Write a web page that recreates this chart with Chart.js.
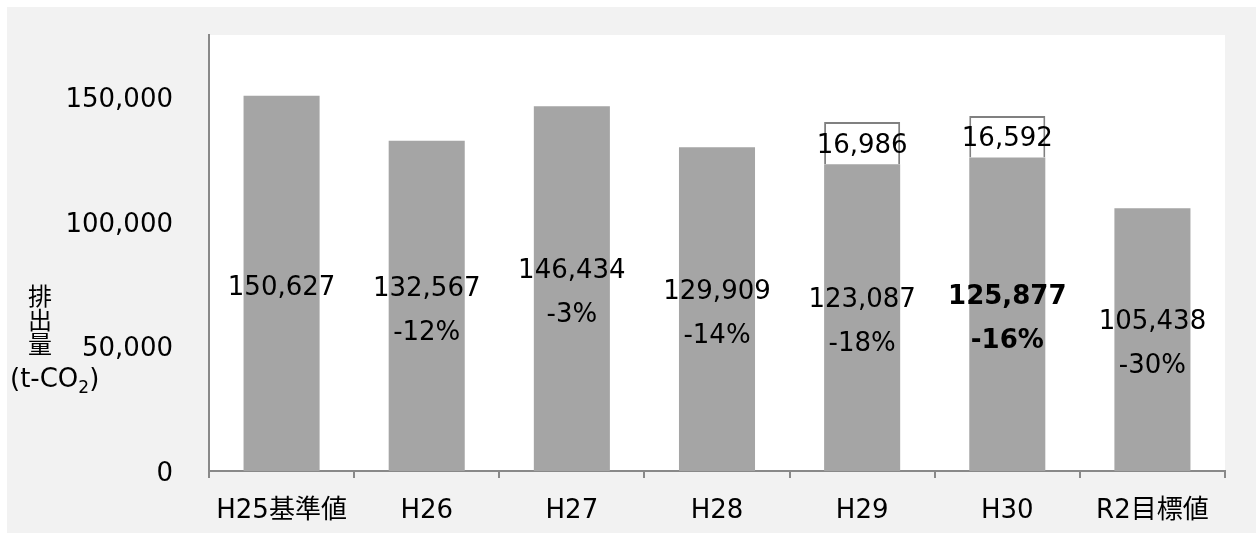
<!DOCTYPE html>
<html>
<head>
<meta charset="utf-8">
<script src="https://cdn.jsdelivr.net/npm/chart.js@4"></script>
<style>
  body { margin: 0; background: #fff; }
  #wrap { width: 1256px; height: 533px; position: relative; }
</style>
</head>
<body>
<div id="wrap"><canvas id="co2Chart"></canvas></div>
<script>
// ── DATI ─────────────────────────────────────
const categories = ['H25基準値', 'H26', 'H27', 'H28', 'H29', 'H30', 'R2目標値'];
const emissions  = [150627, 132567, 146434, 129909, 123087, 125877, 105438];
const extraPart  = [null, null, null, null, 16986, 16592, null];
const pctLabels  = ['', '-12%', '-3%', '-14%', '-18%', '-16%', '-30%'];
const boldIndex  = 5;
const yTicks     = [0, 50000, 100000, 150000];
const yMax       = 175000;

const FONT = "'DejaVu Sans', 'Noto Sans CJK JP', sans-serif";
const fmt  = v => v.toLocaleString('en-US');

// sfondo grigio + area bianca
const bgPlugin = {
  id: 'bg',
  beforeDraw(chart) {
    const { ctx, chartArea: a } = chart;
    ctx.save();
    ctx.fillStyle = '#f2f2f2';
    ctx.fillRect(7, 7, chart.width - 7, chart.height - 7);
    ctx.fillStyle = '#ffffff';
    ctx.fillRect(a.left, a.top, a.right - a.left, a.bottom - a.top);
    ctx.restore();
  }
};

// etichette dentro le barre
const labelPlugin = {
  id: 'barLabels',
  afterDatasetsDraw(chart) {
    const ctx = chart.ctx;
    const main  = chart.getDatasetMeta(0).data;
    const extra = chart.getDatasetMeta(1).data;
    ctx.save();
    ctx.fillStyle = '#000';
    ctx.textAlign = 'center';
    ctx.textBaseline = 'middle';
    main.forEach((bar, i) => {
      const bold = i === boldIndex ? 'bold ' : '';
      ctx.font = `${bold}26px ${FONT}`;
      const cy = (bar.y + bar.base) / 2 + 5;
      if (pctLabels[i]) {
        ctx.fillText(fmt(emissions[i]), bar.x, cy - 22);
        ctx.fillText(pctLabels[i], bar.x, cy + 22);
      } else {
        ctx.fillText(fmt(emissions[i]), bar.x, cy);
      }
      if (extraPart[i] != null) {
        const e = extra[i];
        ctx.font = `26px ${FONT}`;
        ctx.fillText(fmt(extraPart[i]), e.x, (e.y + e.base) / 2 + 3);
      }
    });
    ctx.restore();
  }
};

// titolo asse Y verticale con pedice
const yTitlePlugin = {
  id: 'yTitle',
  afterDraw(chart) {
    const ctx = chart.ctx;
    ctx.save();
    ctx.fillStyle = '#000';
    ctx.textBaseline = 'middle';
    ctx.textAlign = 'center';
    ctx.font = `24px ${FONT}`;
    ['排', '出', '量'].forEach((c, i) => ctx.fillText(c, 40, 299 + i * 24));
    ctx.textAlign = 'left';
    ctx.font = `26px ${FONT}`;
    let x = 10;
    ctx.fillText('(t-CO', x, 380);
    x += ctx.measureText('(t-CO').width;
    ctx.font = `17px ${FONT}`;
    ctx.fillText('2', x, 389);
    x += ctx.measureText('2').width;
    ctx.font = `26px ${FONT}`;
    ctx.fillText(')', x, 380);
    ctx.restore();
  }
};

new Chart(document.getElementById('co2Chart'), {
  type: 'bar',
  data: {
    labels: categories,
    datasets: [
      {
        data: emissions,
        backgroundColor: '#a5a5a5',
        borderWidth: 0,
        categoryPercentage: 1,
        barPercentage: 0.524,
      },
      {
        data: extraPart,
        backgroundColor: '#ffffff',
        borderColor: '#808080',
        borderWidth: 2,
        categoryPercentage: 1,
        barPercentage: 0.524,
      }
    ]
  },
  options: {
    responsive: true,
    maintainAspectRatio: false,
    animation: false,
    layout: { padding: { left: 0, right: 31, top: 35, bottom: 0 } },
    plugins: {
      legend: { display: false },
      tooltip: { enabled: false }
    },
    scales: {
      x: {
        stacked: true,
        offset: true,
        afterFit: s => { s.height = 62; s.paddingLeft = 0; s.paddingRight = 0; },
        grid: {
          offset: true,
          drawOnChartArea: false,
          tickLength: 7,
          color: '#898989',
          lineWidth: 2
        },
        border: { color: '#898989', width: 2 },
        ticks: {
          color: '#000',
          padding: 18,
          maxRotation: 0,
          font: { family: FONT, size: 26 }
        }
      },
      y: {
        stacked: true,
        min: 0,
        max: yMax,
        afterFit: s => { s.width = 209; s.paddingTop = 0; s.paddingBottom = 0; },
        afterBuildTicks: s => { s.ticks = yTicks.map(v => ({ value: v })); },
        grid: { display: false, drawTicks: false },
        border: { display: true, color: '#898989', width: 2 },
        ticks: {
          color: '#000',
          padding: 36,
          labelOffset: 3,
          font: { family: FONT, size: 26 },
          callback: v => fmt(v)
        }
      }
    }
  },
  plugins: [bgPlugin, labelPlugin, yTitlePlugin]
});
</script>
</body>
</html>
